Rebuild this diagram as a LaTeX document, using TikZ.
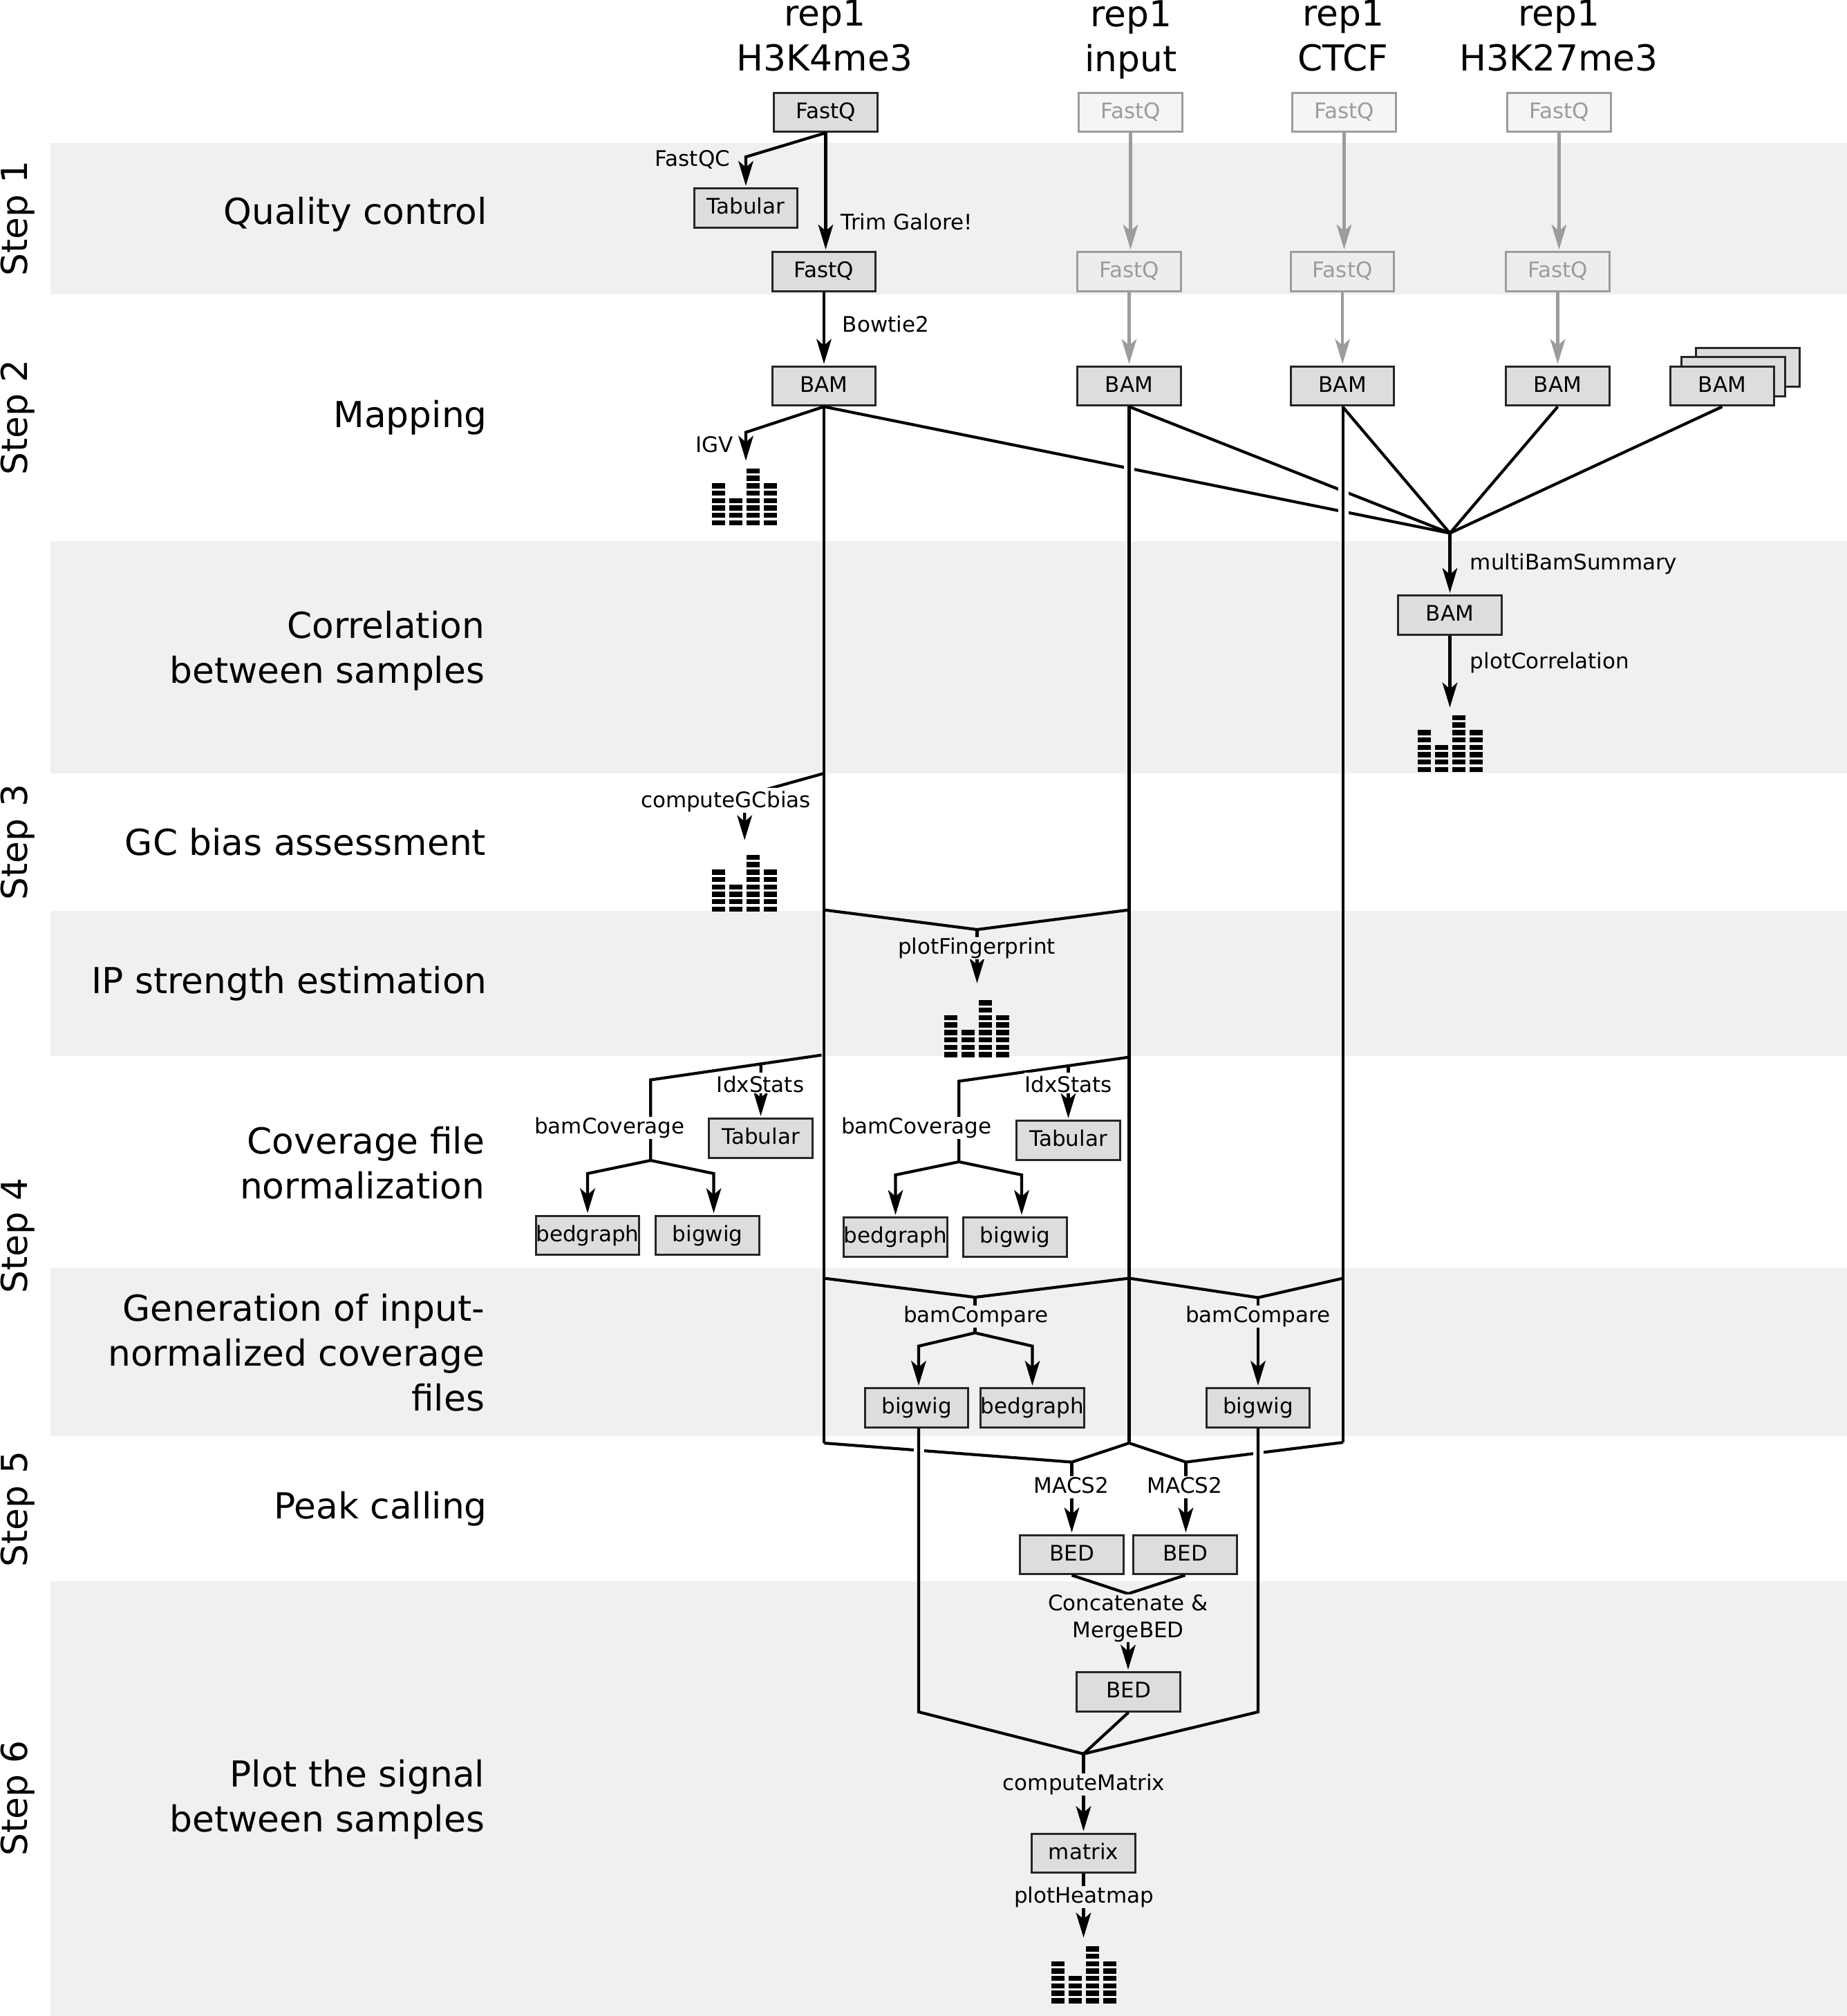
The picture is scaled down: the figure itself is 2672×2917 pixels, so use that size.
\documentclass[tikz,border=0pt]{standalone}
\usepackage{fontspec}
\setmainfont{DejaVu Sans}
\usetikzlibrary{arrows.meta}
\definecolor{bandgray}{HTML}{F0F0F0}
\definecolor{boxgray}{HTML}{DDDDDD}
\definecolor{fadeline}{HTML}{9C9C9C}
\tikzset{
  band/.style={fill=bandgray,draw=none},
  databox/.style={draw=black!85,line width=0.75pt,fill=boxgray,minimum width=37.3pt,minimum height=14.1pt,inner sep=0pt,
    text height=6pt,text depth=1.75pt,font=\fontsize{7.75}{9.75}\selectfont},
  fadebox/.style={databox,draw=fadeline,text=fadeline,fill=#1},
  ln/.style={line width=1.05pt,black},
  arr/.style={ln,-{Stealth[length=9pt,width=5.4pt,inset=2.3pt]},shorten >=0.6pt},
  fadearr/.style={arr,draw=fadeline,-{Stealth[length=9pt,width=5.4pt,inset=2.3pt,fill=fadeline]}},
  halo/.style={white,line width=3.75pt},
  small/.style={font=\fontsize{7.75}{9.75}\selectfont,inner sep=0pt,text height=6pt,text depth=2pt},
  mask/.style={small,fill=#1},
  big/.style={font=\fontsize{12.95}{16.25}\selectfont,inner sep=0pt},
  histo/.pic={
    \foreach \cx/\n in {-47/6,-22/4,3/8,28/6}{
      \foreach \r in {1,...,\n}{
        \fill[black] (\cx,{-(\r-1)*10.7}) rectangle ++(18.5,-7.4);
      }
    }
  }
}
\begin{document}
\begin{tikzpicture}[x=0.25pt,y=-0.25pt]
\useasboundingbox (0,0) rectangle (2672,2917);
% bands
\fill[band] (73,206.6) rectangle (2672,426);
\fill[band] (73,782.6) rectangle (2672,1119);
\fill[band] (73,1318) rectangle (2672,1527.7);
\fill[band] (73,1834.6) rectangle (2672,2078);
\fill[band] (73,2288) rectangle (2672,2917);
% steps
\foreach \nm/\yy/\tx in {st1/316/Step 1,st2/604/Step 2,st3/1218.6/Step 3,st4/1788/Step 4,st5/2183.5/Step 5,st6/2602/Step 6}
  \node[big,rotate=90,anchor=base] (\nm) at (39.3,\yy) {\tx};
% section titles
\node[big,anchor=base east] (t1) at (705.5,324) {Quality control};
\node[big,anchor=base east] (t2) at (705.5,618.4) {Mapping};
\node[big,anchor=east,align=right] (t3) at (702,942) {Correlation\\between samples};
\node[big,anchor=base east] (t4) at (704,1237) {GC bias assessment};
\node[big,anchor=base east] (t5) at (705.5,1437) {IP strength estimation};
\node[big,anchor=east,align=right] (t6) at (702,1682.5) {Coverage file\\normalization};
\node[big,anchor=east,align=right] (t7) at (702,1957) {Generation of input-\\normalized coverage\\files};
\node[big,anchor=base east] (t8) at (705.5,2197) {Peak calling};
\node[big,anchor=east,align=right] (t9) at (702,2603.3) {Plot the signal\\between samples};
% headers
\node[big,align=center] (h1) at (1193,51.3) {rep1\\H3K4me3};
\node[big,align=center] (h2) at (1636,57) {rep1\\input};
\node[big,align=center] (h3) at (1943,51.3) {rep1\\CTCF};
\node[big,align=center] (h4) at (2255,51.3) {rep1\\H3K27me3};
% boxes
\node[databox] (fq1) at (1194.5,162.5) {FastQ};
\node[databox] (tab1) at (1079,301) {Tabular};
\node[databox] (fq2) at (1192,393) {FastQ};
\node[databox] (bam1) at (1192,558.7) {BAM};
\node[fadebox=black!4] (ifq1) at (1635.5,162.5) {FastQ};
\node[fadebox=black!4] (cfq1) at (1944.5,162.5) {FastQ};
\node[fadebox=black!4] (hfq1) at (2255.5,162.5) {FastQ};
\node[fadebox=black!7] (ifq2) at (1633.5,393) {FastQ};
\node[fadebox=black!7] (cfq2) at (1942.2,393) {FastQ};
\node[fadebox=black!7] (hfq2) at (2253.5,393) {FastQ};
\node[databox] (bam2) at (1633.5,558.7) {BAM};
\node[databox] (bam3) at (1942.2,558.7) {BAM};
\node[databox] (bam4) at (2253.5,558.7) {BAM};
\node[databox] (bam5c) at (2528.5,531.5) {};
\node[databox] (bam5b) at (2507.5,545) {};
\node[databox] (bam5) at (2491.5,558.7) {BAM};
\node[databox] (bamS) at (2097.5,890) {BAM};
\node[databox] (tabA) at (1100.5,1647) {Tabular};
\node[databox] (bgA) at (850,1787.5) {bedgraph};
\node[databox] (bwA) at (1023.5,1787.5) {bigwig};
\node[databox] (tabB) at (1545.5,1650) {Tabular};
\node[databox] (bgB) at (1295.5,1790) {bedgraph};
\node[databox] (bwB) at (1468.5,1790) {bigwig};
\node[databox] (bwC) at (1326.2,2037) {bigwig};
\node[databox] (bgC) at (1493.5,2037) {bedgraph};
\node[databox] (bwD) at (1820,2037) {bigwig};
\node[databox] (bedA) at (1550.5,2249.5) {BED};
\node[databox] (bedB) at (1714.5,2249.5) {BED};
\node[databox] (bedC) at (1632.5,2448) {BED};
\node[databox] (mat) at (1567.5,2681.5) {matrix};
% histograms
\pic at (1077,760) {histo};
\pic at (2098,1117) {histo};
\pic at (1077,1319) {histo};
\pic at (1413,1529.6) {histo};
\pic at (1568,2898.5) {histo};
% junctions
\coordinate (qcJ) at (1079,227);
\coordinate (igvJ) at (1079,625.5);
\coordinate (igvT) at (1079,669);
\coordinate (conv) at (2097.5,771.4);
\coordinate (convB) at (2097.5,771.4);
\coordinate (corrT) at (2097.5,1026);
\coordinate (lowA) at (1192,2088);
\coordinate (lowB) at (1633.5,2088);
\coordinate (lowC) at (1943,2087);
\coordinate (macA) at (1550.5,2115.5);
\coordinate (macB) at (1715.5,2115.5);
\coordinate (gcS) at (1192,1119);
\coordinate (gcJ) at (1077.2,1151);
\coordinate (gcT) at (1077.2,1218);
\coordinate (ipA) at (1192,1316.5);
\coordinate (ipB) at (1633.5,1316.5);
\coordinate (ipJ) at (1413.5,1345);
\coordinate (ipT) at (1413.5,1425);
\coordinate (covAs) at (1188.5,1526.6);
\coordinate (covAk) at (941.2,1562.5);
\coordinate (covAf) at (941.2,1679);
\coordinate (covAl) at (850,1698);
\coordinate (covAr) at (1032.5,1698);
\coordinate (idxA) at (1100.8,1539.4);
\coordinate (covBs) at (1633.5,1529.6);
\coordinate (covBk) at (1387.3,1564.4);
\coordinate (covBf) at (1387.3,1681);
\coordinate (covBl) at (1295.5,1700);
\coordinate (covBr) at (1478,1700);
\coordinate (idxB) at (1545.5,1542);
\coordinate (gnA) at (1192,1849.5);
\coordinate (gnB) at (1633.5,1849.5);
\coordinate (gnC) at (1943,1849.5);
\coordinate (gnJ) at (1410.5,1877);
\coordinate (gnK) at (1820,1877.5);
\coordinate (gnF) at (1410.5,1928.5);
\coordinate (gnL) at (1329,1947.7);
\coordinate (gnR) at (1493.5,1947.7);
\coordinate (sigL) at (1329,2477);
\coordinate (sigR) at (1820,2477);
\coordinate (sigJ) at (1567.5,2537.7);
\coordinate (merge) at (1632,2306);
\coordinate (htT) at (1567.5,2806);
% faded arrows
\draw[fadearr] (ifq1.south) -- (ifq1.south |- ifq2.north);
\draw[fadearr] (cfq1.south) -- (cfq1.south |- cfq2.north);
\draw[fadearr] (hfq1.south) -- (hfq1.south |- hfq2.north);
\draw[fadearr] (ifq2.south) -- (bam2.north);
\draw[fadearr] (cfq2.south) -- (bam3.north);
\draw[fadearr] (hfq2.south) -- (bam4.north);
% step 1 and 2 connectors
\draw[arr] (fq1.south) -- (qcJ) -- (tab1.north);
\draw[arr] (fq1.south) -- (fq1.south |- fq2.north);
\draw[arr] (fq2.south) -- (bam1.north);
\draw[arr] (bam1.south) -- (igvJ) -- (igvT);
% to the summary
\draw[ln] (bam1.south) -- (conv);
\draw[ln] (bam2.south) -- (conv);
\draw[ln] (bam3.south) -- (conv);
\draw[ln] (bam4.south) -- (conv);
\draw[ln] (bam5.south) -- (conv);
\draw[arr] (convB) -- (bamS.north);
\draw[arr] (bamS.south) -- (corrT);
% low forks, then gaps, then long verticals
\draw[ln] (lowA) -- (macA) -- (lowB) -- (macB) -- (lowC);
\coordinate (gapA1) at (1633.5,667); \coordinate (gapA2) at (1633.5,687);
\coordinate (gapB1) at (1943,700); \coordinate (gapB2) at (1943,750);
\coordinate (gapC1) at (1329,2088); \coordinate (gapC2) at (1329,2108);
\coordinate (gapD1) at (1820,2092); \coordinate (gapD2) at (1820,2112);
\draw[halo] (gapA1) -- (gapA2);
\draw[halo] (gapB1) -- (gapB2);
\draw[halo] (gapC1) -- (gapC2);
\draw[halo] (gapD1) -- (gapD2);
\draw[ln] (bam1.south) -- (lowA);
\draw[ln] (bam2.south) -- (lowB);
\draw[ln] (lowC |- bam3.south) -- (lowC);
% GC bias
\draw[arr] (gcS) -- (gcJ) -- (gcT);
% fingerprint
\draw[ln] (ipA) -- (ipJ) -- (ipB);
\draw[arr] (ipJ) -- (ipT);
% coverage A
\draw[ln] (covAs) -- (covAk) -- (covAf);
\draw[arr] (covAf) -- (covAl) -- (bgA.north);
\draw[arr] (covAf) -- (covAr) -- (covAr |- bwA.north);
\draw[arr] (idxA) -- (tabA.north);
% coverage B
\draw[ln] (covBs) -- (covBk) -- (covBf);
\draw[arr] (covBf) -- (covBl) -- (bgB.north);
\draw[arr] (covBf) -- (covBr) -- (covBr |- bwB.north);
\draw[arr] (idxB) -- (tabB.north);
% generation
\draw[ln] (gnA) -- (gnJ) -- (gnB) -- (gnK) -- (gnC);
\draw[ln] (gnJ) -- (gnF);
\draw[arr] (gnF) -- (gnL) -- (gnL |- bwC.north);
\draw[arr] (gnF) -- (gnR) -- (bgC.north);
\draw[arr] (gnK) -- (bwD.north);
% peaks
\draw[arr] (macA) -- (macA |- bedA.north);
\draw[arr] (macB) -- (macB |- bedB.north);
\draw[ln] (bedA.south) -- (merge) -- (bedB.south);
\draw[arr] (merge) -- (merge |- bedC.north);
% plot
\draw[ln] (gnL |- bwC.south) -- (sigL) -- (sigJ) -- (sigR) -- (bwD.south);
\draw[ln] (bedC.south) -- (sigJ);
\draw[arr] (sigJ) -- (mat.north);
\draw[arr] (mat.south) -- (htT);
% labels
\node[small,anchor=base] (lqc) at (1002,240) {FastQC};
\node[small,anchor=base west] (ltg) at (1216,332) {Trim Galore!};
\node[small,anchor=base west] (lbt) at (1218,480) {Bowtie2};
\node[small,anchor=base] (ligv) at (1034,654.5) {IGV};
\node[small,anchor=base west] (lmb) at (2126,824) {multiBamSummary};
\node[small,anchor=base west] (lpc) at (2126,967) {plotCorrelation};
\node[mask=white,anchor=base,text height=7pt] (lgc) at (1050,1168) {computeGCbias};
\node[mask=bandgray,anchor=base] (lfp) at (1413,1380) {plotFingerprint};
\node[mask=white,anchor=base,text height=7pt,text depth=0.5pt] (lidA) at (1100,1580) {IdxStats};
\node[mask=white,anchor=base,text height=7pt,text depth=0.5pt] (lidB) at (1545.6,1580) {IdxStats};
\node[mask=white,anchor=base] (lcvA) at (882,1640) {bamCoverage};
\node[mask=white,anchor=base] (lcvB) at (1325.8,1640) {bamCoverage};
\node[mask=bandgray,anchor=base] (lcpA) at (1412,1913) {bamCompare};
\node[mask=bandgray,anchor=base] (lcpB) at (1820,1913) {bamCompare};
\node[mask=white,anchor=base] (lmcA) at (1550,2160) {MACS2};
\node[mask=white,anchor=base] (lmcB) at (1714,2160) {MACS2};
\node[font=\fontsize{7.75}{9.75}\selectfont,inner sep=0pt,fill=bandgray,align=center] (lmg) at (1632,2341.5) {Concatenate \&\\MergeBED};
\node[mask=bandgray,anchor=base] (lcm) at (1568,2590) {computeMatrix};
\node[mask=bandgray,anchor=base] (lhm) at (1568,2753) {plotHeatmap};
\end{tikzpicture}
\end{document}
